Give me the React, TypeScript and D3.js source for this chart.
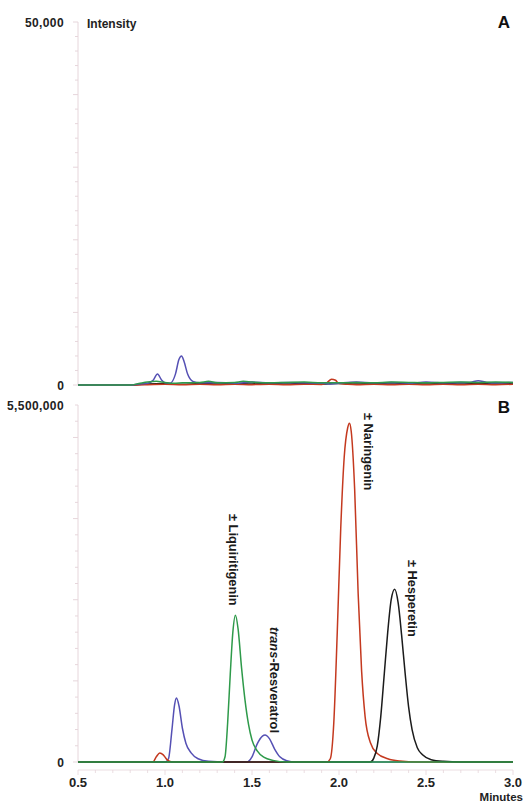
import React from "react";
import * as d3 from "d3";

// Retention time (min), intensity (counts)
type Pt = [number, number];

// Panel A traces (blank, 0 – 50,000 counts)
const blueA: Pt[] = [
  [0.5, 0], [0.8, 0], [0.85, 150], [0.9, 250], [0.93, 600], [0.957, 1500], [0.98, 700],
  [1.0, 300], [1.03, 250], [1.06, 1500], [1.08, 3500], [1.095, 4000], [1.11, 3200],
  [1.13, 1500], [1.16, 500], [1.2, 300], [1.3, 350], [1.4, 250], [1.5, 400], [1.6, 300],
  [1.7, 350], [1.8, 300], [1.9, 250], [1.95, 150], [2.0, 250], [2.1, 400], [2.2, 300],
  [2.3, 350], [2.4, 250], [2.5, 400], [2.6, 300], [2.7, 350], [2.75, 350], [2.8, 600],
  [2.85, 350], [2.9, 300], [3.0, 350],
];
const greenA: Pt[] = [
  [0.5, 0], [0.8, 0], [0.85, 200], [0.9, 400], [0.95, 500], [1.0, 350], [1.05, 250],
  [1.1, 300], [1.2, 350], [1.25, 500], [1.3, 300], [1.4, 350], [1.45, 500], [1.5, 400],
  [1.6, 300], [1.7, 350], [1.8, 400], [1.9, 300], [2.0, 300], [2.1, 350], [2.2, 300],
  [2.3, 400], [2.4, 350], [2.5, 300], [2.6, 350], [2.7, 400], [2.8, 350], [2.9, 400], [3.0, 350],
];
const redA: Pt[] = [
  [0.5, 0], [0.8, 0], [0.9, 50], [1.0, 100], [1.1, 50], [1.2, 100], [1.3, 50], [1.4, 100],
  [1.5, 50], [1.6, 100], [1.7, 50], [1.8, 100], [1.9, 80], [1.93, 300], [1.957, 800],
  [1.98, 650], [2.0, 200], [2.05, 100], [2.1, 50], [2.2, 100], [2.3, 50], [2.4, 100],
  [2.5, 50], [2.6, 100], [2.7, 50], [2.8, 100], [2.9, 50], [3.0, 100],
];
const blackA: Pt[] = [
  [0.5, 0], [0.8, 0], [0.9, 150], [1.0, 200], [1.1, 100], [1.2, 200], [1.3, 150], [1.4, 200],
  [1.5, 150], [1.6, 200], [1.7, 150], [1.8, 200], [1.9, 150], [2.0, 200], [2.1, 150],
  [2.2, 200], [2.3, 150], [2.4, 200], [2.5, 150], [2.6, 200], [2.7, 150], [2.8, 200],
  [2.9, 150], [3.0, 200],
];

// Panel B traces (standards, 0 – 5,500,000 counts)
const blueB: Pt[] = [
  [0.5, 0], [1.0, 0], [1.02, 50000], [1.04, 500000], [1.055, 880000], [1.066, 985000],
  [1.08, 870000], [1.1, 520000], [1.12, 290000], [1.15, 140000], [1.19, 50000],
  [1.25, 10000], [1.35, 0], [1.47, 0], [1.5, 80000], [1.53, 280000], [1.56, 400000],
  [1.575, 416000], [1.6, 360000], [1.63, 200000], [1.66, 80000], [1.7, 20000], [1.75, 0], [3.0, 0],
];
const redB: Pt[] = [
  [0.5, 0], [0.93, 0], [0.95, 80000], [0.97, 140000], [0.99, 110000], [1.01, 40000],
  [1.04, 0], [1.93, 0], [1.95, 50000], [1.97, 600000], [1.99, 2000000], [2.01, 3600000],
  [2.03, 4700000], [2.05, 5150000], [2.06, 5220000], [2.07, 5100000], [2.09, 4200000],
  [2.11, 2600000], [2.13, 1400000], [2.15, 700000], [2.18, 300000], [2.22, 130000],
  [2.28, 50000], [2.35, 15000], [2.45, 0], [3.0, 0],
];
const blackB: Pt[] = [
  [0.5, 0], [2.18, 0], [2.2, 60000], [2.22, 250000], [2.24, 700000], [2.26, 1350000],
  [2.28, 2000000], [2.3, 2500000], [2.32, 2660000], [2.34, 2450000], [2.36, 1950000],
  [2.38, 1370000], [2.4, 850000], [2.42, 500000], [2.45, 220000], [2.48, 110000],
  [2.53, 35000], [2.6, 10000], [2.7, 0], [3.0, 0],
];
const greenB: Pt[] = [
  [0.5, 0], [1.33, 0], [1.345, 80000], [1.36, 600000], [1.375, 1350000], [1.39, 2000000],
  [1.405, 2260000], [1.42, 2050000], [1.44, 1450000], [1.46, 950000], [1.48, 580000],
  [1.5, 340000], [1.53, 170000], [1.57, 70000], [1.62, 25000], [1.7, 0], [3.0, 0],
];

const xTickLabels = ["0.5", "1.0", "1.5", "2.0", "2.5", "3.0"];

const COLORS = {
  blue: "#5550b4",
  green: "#2e9a4a",
  red: "#c4391f",
  black: "#1b1b1b",
};
const AXIS = "#e6d6db";
const FONT = "'Liberation Sans', Arial, sans-serif";

const W = 525;
const H = 802;
const X0 = 78;
const X1 = 513;

const x = d3.scaleLinear().domain([0.5, 3.0]).range([X0, X1]);

function Panel({
  top, zero, max, minorStep, traces, topLabel, letter, letterY,
}: {
  top: number; zero: number; max: number; minorStep: number;
  traces: { data: Pt[]; color: string }[];
  topLabel: string; letter: string; letterY: number;
}) {
  const y = d3.scaleLinear().domain([0, max]).range([zero, top]);
  const line = d3.line<Pt>().x((d) => x(d[0])).y((d) => y(d[1])).curve(d3.curveMonotoneX);
  const minor = d3.range(0, max + minorStep / 2, minorStep);
  return (
    <g>
      <line x1={X0} x2={X0} y1={top} y2={zero} stroke={AXIS} strokeWidth={1} />
      {minor.map((v, i) => (
        <line key={i} x1={X0 - (i % 5 === 0 ? 5 : 3)} x2={X0} y1={y(v)} y2={y(v)} stroke={AXIS} strokeWidth={1} />
      ))}
      <text x={64} y={top + 5} textAnchor="end" fontFamily={FONT} fontWeight="bold" fontSize={12} letterSpacing={0.4} fill="#222">
        {topLabel}
      </text>
      <text x={64} y={zero + 5} textAnchor="end" fontFamily={FONT} fontWeight="bold" fontSize={12} fill="#222">
        0
      </text>
      <text x={510} y={letterY} textAnchor="end" fontFamily={FONT} fontWeight="bold" fontSize={17} fill="#111">
        {letter}
      </text>
      {traces.map((t, i) => (
        <path key={i} d={line(t.data) ?? ""} fill="none" stroke={t.color} strokeWidth={1.5} strokeLinejoin="round" />
      ))}
    </g>
  );
}

function VLabel({ x0, y0, children }: { x0: number; y0: number; children: React.ReactNode }) {
  return (
    <text
      transform={`translate(${x0},${y0}) rotate(90)`}
      fontFamily={FONT}
      fontWeight="bold"
      fontSize={12.8}
      fill="#1a1a1a"
    >
      {children}
    </text>
  );
}

export default function App() {
  const xMinor = d3.range(0.5, 3.0001, 0.1);
  return (
    <svg
      width={W}
      height={H}
      viewBox={`0 0 ${W} ${H}`}
      style={{ position: "absolute", left: 0, top: 0, background: "#fff" }}
    >
      <rect width={W} height={H} fill="#fff" />
      <Panel
        top={22}
        zero={385}
        max={50000}
        minorStep={2000}
        topLabel="50,000"
        letter="A"
        letterY={28}
        traces={[
          { data: blackA, color: COLORS.black },
          { data: redA, color: COLORS.red },
          { data: blueA, color: COLORS.blue },
          { data: greenA, color: COLORS.green },
        ]}
      />
      <text x={87} y={28} fontFamily={FONT} fontWeight="bold" fontSize={12} fill="#222">
        Intensity
      </text>
      <Panel
        top={405}
        zero={762}
        max={5500000}
        minorStep={250000}
        topLabel="5,500,000"
        letter="B"
        letterY={413}
        traces={[
          { data: blueB, color: COLORS.blue },
          { data: redB, color: COLORS.red },
          { data: blackB, color: COLORS.black },
          { data: greenB, color: COLORS.green },
        ]}
      />
      {/* time axis */}
      <line x1={X0} x2={X1} y1={770} y2={770} stroke={AXIS} strokeWidth={0.8} />
      {xMinor.map((t, i) => (
        <line key={i} x1={x(t)} x2={x(t)} y1={770} y2={i % 5 === 0 ? 775 : 773} stroke={AXIS} strokeWidth={0.8} />
      ))}
      {xTickLabels.map((l) => (
        <text key={l} x={x(+l)} y={787} textAnchor="middle" fontFamily={FONT} fontWeight="bold" fontSize={13} fill="#222">
          {l}
        </text>
      ))}
      <text x={523} y={801} textAnchor="end" fontFamily={FONT} fontWeight="bold" fontSize={11.5} fill="#222">
        Minutes
      </text>
      {/* compound labels */}
      <VLabel x0={229} y0={514}>± Liquiritigenin</VLabel>
      <VLabel x0={270} y0={627}>
        <tspan fontStyle="italic">trans</tspan>-Resveratrol
      </VLabel>
      <VLabel x0={364} y0={413}>± Naringenin</VLabel>
      <VLabel x0={408} y0={560}>± Hesperetin</VLabel>
    </svg>
  );
}
